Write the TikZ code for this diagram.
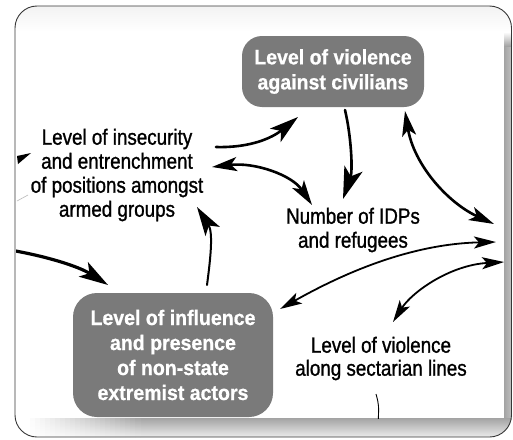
\documentclass[tikz,border=0pt]{standalone}
\usepackage{fontspec}
\setmainfont{Liberation Sans}
\newfontfamily\condreg{Liberation Sans}[FakeStretch=0.855,FakeBold=1.1]
\newfontfamily\condbold{Liberation Sans}[FakeStretch=0.93,FakeBold=0.8]
\usetikzlibrary{arrows.meta}
\definecolor{boxgray}{RGB}{122,122,122}
\definecolor{framegray}{RGB}{55,55,55}
\begin{document}
\begin{tikzpicture}[x=1pt,y=-1pt,
  lbl/.style={align=center,font=\condreg\fontsize{22}{24}\selectfont,inner sep=0pt},
  keybox/.style={fill=boxgray,text=white,align=center,inner sep=0pt,
    font=\condbold\bfseries\fontsize{21}{25}\selectfont},
  bighead/.style={-{Stealth[length=29pt,width=17pt,inset=7pt]}},
  hugehead/.style={-{Stealth[length=32pt,width=19pt,inset=8pt]}},
  conn/.style={line width=2.6pt,line cap=round},
  thinconn/.style={line width=1.8pt,line cap=round},
  bothmid/.style={{Stealth[length=25pt,width=14pt,inset=6pt]}-{Stealth[length=25pt,width=14pt,inset=6pt]}},
  bothsmall/.style={{Stealth[length=22pt,width=12pt,inset=5pt]}-{Stealth[length=22pt,width=12pt,inset=5pt]}}
]
\useasboundingbox (0,0) rectangle (513,439);
% frame with shadow
\begin{scope}
  \clip[rounded corners=22pt] (15,6) rectangle (511.5,437);
  \fill[white] (0,0) rectangle (513,439);
  \shade[top color=gray!10, bottom color=white] (15,6) rectangle (511,32);
  \shade[left color=gray!72, right color=gray!48] (504,46) rectangle (512,437);
  \shade[top color=white, bottom color=gray!72] (504,32) rectangle (512,46);
  \shade[top color=gray!72, bottom color=gray!15] (140,418) rectangle (512,437);
  \foreach \i in {0,...,22} {
    \pgfmathsetmacro{\ca}{72*\i/23}
    \pgfmathsetmacro{\cb}{15*\i/23}
    \shade[top color=gray!\ca, bottom color=gray!\cb] ({25+5*\i},418) rectangle ({30.6+5*\i},437);
  }
  \fill[white] (15,32) rectangle (504,418);
\end{scope}
\draw[framegray, line width=0.9pt, rounded corners=22pt] (15,6) rectangle (511.5,437);

\begin{scope}
  \clip (16,32) rectangle (504,418);
  % nodes
  \node[keybox, rounded corners=20pt, minimum width=182pt, minimum height=71pt] (vac) at (333,71.5)
    {Level of violence\\against civilians};
  \node[keybox, rounded corners=24pt, minimum width=200pt, minimum height=124pt] (inf) at (173,355)
    {Level of influence\\and presence\\of non-state\\extremist actors};
  \node[lbl] (ins) at (117,175) {Level of insecurity\\and entrenchment\\of positions amongst\\armed groups};
  \node[lbl] (idp) at (353,230) {Number of IDPs\\and refugees};
  \node[lbl, font=\condreg\fontsize{22}{23}\selectfont] (sec) at (381,358.5) {Level of violence\\along sectarian lines};

  % connector end points
  \coordinate (insA) at (216,147);
  \coordinate (vacA) at (298,117);
  \coordinate (vacB) at (345,110);
  \coordinate (idpA) at (343,199);
  \coordinate (insB) at (212,167);
  \coordinate (idpB) at (312,205);
  \coordinate (vacC) at (405,111);
  \coordinate (edgeA) at (494,224);
  \coordinate (infA) at (280,309);
  \coordinate (edgeB) at (496,242);
  \coordinate (secA) at (393,322);
  \coordinate (edgeC) at (504,262);
  \coordinate (infB) at (207,285);
  \coordinate (insC) at (197,207);
  \coordinate (outL) at (10,250);
  \coordinate (infC) at (108,285);
  \coordinate (secB) at (376,394);
  \coordinate (outB) at (378,425);

  % connectors
  \draw[conn,bighead] (insA) .. controls (250,148) and (272,138) .. (vacA);
  \draw[conn,hugehead] (vacB) .. controls (351,135) and (353,170) .. (idpA);
  \draw[conn,bothmid] (insB) .. controls (255,162) and (292,175) .. (idpB);
  \draw[conn,bothmid] (vacC) .. controls (414,165) and (448,203) .. (edgeA);
  \draw[thinconn,bothsmall] (infA) .. controls (335,278) and (405,244) .. (edgeB);
  \draw[thinconn,bothsmall] (secA) .. controls (412,292) and (450,265) .. (edgeC);
  \draw[line width=2pt,line cap=round,bighead] (infB) .. controls (211,255) and (213,232) .. (insC);
  \draw[line width=3.2pt,bighead] (outL) .. controls (45,256) and (78,266) .. (infC);
  \draw[line width=0.9pt] (secB) .. controls (379,405) .. (outB);
  % fragments cut by the frame
  \fill (17,156) -- (31,153) -- (18,164) -- cycle;
  \draw[gray!55, line width=0.6pt] (17,201) -- (28,195);
\end{scope}
\end{tikzpicture}
\end{document}
